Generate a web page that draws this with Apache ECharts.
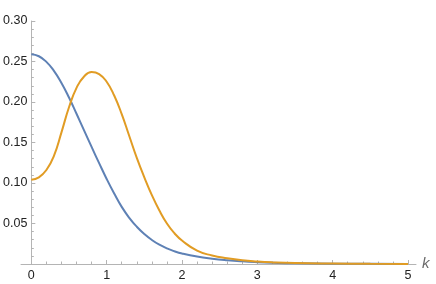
<!DOCTYPE html>
<html>
<head>
<meta charset="utf-8">
<script src="https://cdn.jsdelivr.net/npm/echarts@6/dist/echarts.min.js"></script>
<style>
html,body{margin:0;padding:0;background:#fff;}
#chart{width:436px;height:284px;}
</style>
</head>
<body>
<div id="chart"></div>
<script>
var kValues = [0, 0.1, 0.2, 0.3, 0.4, 0.5, 0.6, 0.7, 0.8, 0.9, 1.0, 1.1, 1.2, 1.3, 1.4, 1.5, 1.6, 1.7, 1.8, 1.9, 2.0, 2.2, 2.4, 2.6, 2.8, 3.0, 3.2, 3.5, 4.0, 4.5, 5.0];
var blueValues = [0.259, 0.2565, 0.2495, 0.2385, 0.2235, 0.2055, 0.1855, 0.165, 0.1445, 0.1245, 0.105, 0.087, 0.0705, 0.057, 0.046, 0.037, 0.0297, 0.0238, 0.0192, 0.0157, 0.013, 0.0092, 0.0066, 0.0047, 0.0033, 0.0023, 0.0016, 0.0009, 0.0004, 0.0002, 0.0001];
var orangeValues = [0.104, 0.107, 0.116, 0.1335, 0.1625, 0.1935, 0.2175, 0.2315, 0.237, 0.2345, 0.225, 0.208, 0.185, 0.158, 0.131, 0.107, 0.085, 0.066, 0.050, 0.038, 0.029, 0.0165, 0.0105, 0.007, 0.0045, 0.003, 0.002, 0.0011, 0.0005, 0.0002, 0.0001];
var xTicks = [0, 1, 2, 3, 4, 5];
var yTicks = [0.05, 0.10, 0.15, 0.20, 0.25, 0.30];

function pairs(vals) { return kValues.map(function (k, i) { return [k, vals[i]]; }); }

var axisGray = '#b4b4b4';
var labelColor = '#222';
var chart = echarts.init(document.getElementById('chart'), null, {renderer: 'canvas'});
chart.setOption({
  animation: false,
  backgroundColor: '#fff',
  grid: [
    {left: 29, right: 28, top: 21, bottom: 20, containLabel: false},
    {left: 21, right: 20, top: 21, bottom: 20, containLabel: false}
  ],
  xAxis: [{
    type: 'value', gridIndex: 0, min: xTicks[0], max: xTicks[xTicks.length - 1], interval: 1,
    axisLine: {show: true, onZero: false, lineStyle: {color: axisGray, width: 1}},
    axisTick: {show: true, inside: true, length: 4, lineStyle: {color: axisGray}},
    minorTick: {show: true, splitNumber: 5, length: 2.5, lineStyle: {color: axisGray}},
    axisLabel: {color: labelColor, fontSize: 12.5, fontFamily: 'Liberation Sans', margin: 5},
    splitLine: {show: false}
  }, {
    type: 'value', gridIndex: 1, min: 0, max: 1,
    axisLine: {show: true, onZero: false, lineStyle: {color: axisGray, width: 1}},
    axisTick: {show: false}, axisLabel: {show: false}, splitLine: {show: false},
    name: 'k', nameLocation: 'end', nameGap: 6,
    nameTextStyle: {color: '#6a6a6a', fontStyle: 'italic', fontSize: 15, fontFamily: 'Liberation Sans', verticalAlign: 'middle', padding: [0, 0, 6, 0]}
  }],
  yAxis: [{
    type: 'value', gridIndex: 0, min: 0, max: yTicks[yTicks.length - 1], interval: 0.05,
    axisLine: {show: true, onZero: false, lineStyle: {color: axisGray, width: 1}},
    axisTick: {show: true, inside: true, length: 4, lineStyle: {color: axisGray}},
    minorTick: {show: true, splitNumber: 5, length: 2.5, lineStyle: {color: axisGray}},
    axisLabel: {color: labelColor, fontSize: 12.5, fontFamily: 'Liberation Sans', margin: 4,
      formatter: function (v) { return v === 0 ? '' : v.toFixed(2); }},
    splitLine: {show: false}
  }, {
    type: 'value', gridIndex: 1, show: false, min: 0, max: 1
  }],
  series: [{
    type: 'line', xAxisIndex: 0, yAxisIndex: 0, data: pairs(blueValues),
    showSymbol: false, smooth: 0.5,
    lineStyle: {color: '#5e81b5', width: 2}, clip: false
  }, {
    type: 'line', xAxisIndex: 0, yAxisIndex: 0, data: pairs(orangeValues),
    showSymbol: false, smooth: 0.5,
    lineStyle: {color: '#e19c24', width: 2}, clip: false
  }]
});
</script>
</body>
</html>
